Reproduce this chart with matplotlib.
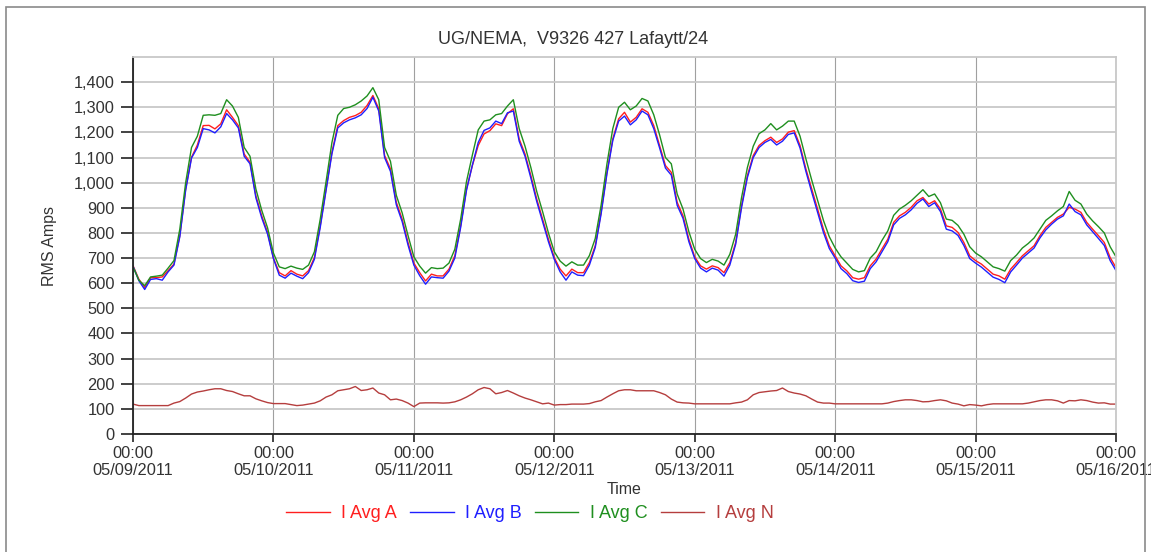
import numpy as np
import pandas as pd
import matplotlib
matplotlib.use("Agg")
from matplotlib import pyplot as plt
from matplotlib import dates as mdates
from matplotlib.ticker import StrMethodFormatter
from matplotlib.patches import Rectangle

plt.rcParams['font.family'] = ['Liberation Sans', 'DejaVu Sans']

# hourly RMS current readings, 05/09/2011 00:00 .. 05/16/2011 00:00
times = pd.date_range('2011-05-09 00:00', periods=169, freq='h')

i_avg_a = [
    670, 616, 583, 622, 622, 625, 650, 676, 789, 975, 1101, 1150, 1227, 1228, 1214, 1234, 1290, 1260, 1227, 1114, 1081, 948, 868, 802, 700,
    642, 629, 650, 636, 629, 650, 702, 829, 975, 1121, 1227, 1247, 1260, 1267, 1280, 1307, 1347, 1294, 1108, 1055, 922, 855, 762, 680,
    642, 609, 636, 629, 629, 656, 709, 829, 975, 1068, 1148, 1194, 1207, 1234, 1227, 1274, 1294, 1174, 1114, 1028, 935, 855, 775, 702,
    656, 629, 656, 642, 642, 682, 749, 882, 1041, 1174, 1254, 1280, 1241, 1260, 1294, 1280, 1227, 1148, 1068, 1041, 922, 868, 775, 705,
    669, 656, 669, 662, 642, 682, 762, 908, 1028, 1108, 1148, 1167, 1181, 1160, 1174, 1201, 1207, 1148, 1055, 975, 895, 815, 749, 709,
    669, 649, 622, 616, 622, 669, 696, 736, 775, 842, 868, 882, 902, 928, 941, 915, 928, 895, 828, 822, 802, 762, 709, 690,
    676, 656, 636, 629, 616, 656, 682, 709, 729, 749, 789, 822, 842, 862, 875, 902, 895, 882, 842, 815, 789, 762, 702, 662,
]
i_avg_b = [
    668, 610, 575, 615, 618, 612, 645, 672, 785, 970, 1098, 1140, 1215, 1210, 1198, 1222, 1275, 1250, 1218, 1105, 1075, 940, 860, 795, 698,
    632, 620, 640, 628, 618, 642, 695, 822, 970, 1115, 1218, 1238, 1250, 1258, 1270, 1295, 1340, 1285, 1100, 1045, 912, 845, 752, 672,
    630, 596, 625, 622, 620, 648, 700, 822, 970, 1070, 1160, 1208, 1218, 1245, 1235, 1278, 1285, 1165, 1105, 1018, 925, 845, 765, 695,
    645, 612, 645, 632, 630, 672, 742, 875, 1035, 1168, 1245, 1265, 1230, 1250, 1285, 1270, 1215, 1138, 1058, 1030, 910, 858, 765, 698,
    660, 645, 660, 652, 628, 672, 755, 900, 1020, 1100, 1140, 1160, 1172, 1150, 1165, 1192, 1198, 1138, 1045, 962, 882, 802, 738, 700,
    658, 638, 610, 603, 608, 658, 685, 725, 765, 832, 858, 872, 892, 918, 935, 905, 920, 885, 815, 808, 790, 750, 698, 680,
    664, 644, 624, 615, 602, 645, 672, 700, 720, 740, 780, 812, 835, 855, 868, 915, 885, 872, 832, 805, 778, 750, 690, 650,
]
i_avg_c = [
    665, 612, 590, 625, 628, 632, 660, 690, 815, 1000, 1140, 1185, 1268, 1270, 1268, 1275, 1330, 1305, 1260, 1140, 1105, 975, 890, 820, 720,
    665, 658, 668, 660, 655, 672, 725, 855, 1005, 1160, 1268, 1295, 1300, 1310, 1325, 1345, 1378, 1330, 1140, 1085, 950, 880, 790, 705,
    668, 640, 662, 658, 660, 680, 735, 855, 1005, 1110, 1210, 1245, 1250, 1270, 1275, 1305, 1330, 1215, 1145, 1060, 965, 885, 800, 725,
    688, 668, 685, 672, 672, 710, 778, 910, 1075, 1215, 1300, 1320, 1290, 1305, 1335, 1325, 1270, 1190, 1100, 1075, 955, 895, 805, 735,
    698, 682, 695, 688, 672, 715, 795, 940, 1060, 1145, 1195, 1210, 1235, 1210, 1225, 1245, 1245, 1185, 1095, 1010, 930, 850, 785, 740,
    705, 680, 655, 645, 650, 700, 725, 770, 808, 870, 895, 910, 928, 950, 972, 945, 955, 920, 855, 850, 830, 795, 745, 720,
    705, 685, 665, 658, 648, 690, 712, 740, 758, 780, 815, 850, 868, 888, 905, 965, 930, 915, 875, 848, 825, 800, 745, 705,
]
i_avg_n = [
    119, 113, 113, 113, 113, 113, 113, 123, 129, 143, 159, 167, 171, 176, 180, 180, 173, 169, 160, 152, 152, 140, 132, 125, 121,
    121, 121, 117, 113, 115, 119, 123, 132, 147, 156, 172, 176, 180, 189, 173, 176, 183, 163, 156, 136, 139, 133, 123, 109,
    123, 124, 124, 124, 123, 124, 128, 136, 147, 160, 176, 185, 180, 160, 165, 173, 163, 152, 143, 136, 128, 120, 123, 115,
    117, 117, 119, 119, 119, 121, 128, 133, 147, 160, 172, 176, 176, 172, 172, 172, 172, 165, 156, 139, 127, 124, 123, 120,
    120, 120, 120, 120, 120, 120, 124, 127, 136, 156, 165, 168, 171, 173, 183, 169, 163, 159, 152, 139, 127, 123, 123, 120,
    120, 120, 120, 120, 120, 120, 120, 120, 123, 129, 133, 136, 136, 133, 128, 129, 133, 136, 132, 123, 119, 112, 117, 115,
    112, 117, 120, 120, 120, 120, 120, 120, 123, 128, 133, 136, 136, 132, 123, 133, 132, 136, 133, 127, 123, 124, 119, 119,
]

series = [
    ('I Avg A', i_avg_a, '#ff1f1f'),
    ('I Avg B', i_avg_b, '#1f1fff'),
    ('I Avg C', i_avg_c, '#1f8f1f'),
    ('I Avg N', i_avg_n, '#b53e3e'),
]

W, H = 1151, 552
fig = plt.figure(figsize=(W / 100, H / 100), dpi=100)
ax = fig.add_axes([133 / W, 1 - 434 / H, (1116 - 133) / W, (434 - 57) / H])

for label, vals, color in series:
    ax.plot(times, vals, color=color, lw=1.0, label=label)

ax.set_xlim(times[0], times[-1])
ax.set_ylim(0, 1500)
ax.set_yticks(np.arange(0, 1500, 100))
ax.yaxis.set_major_formatter(StrMethodFormatter('{x:,.0f}'))
ax.xaxis.set_major_locator(mdates.DayLocator())
ax.xaxis.set_major_formatter(mdates.DateFormatter('%H:%M\n%m/%d/%Y'))

ax.grid(axis='y', color='#c8c8c8', lw=1.3)
ax.grid(axis='x', color='#a0a0a0', lw=0.8)
ax.set_axisbelow(True)

for side in ('top', 'right'):
    ax.spines[side].set_color('#c8c8c8')
    ax.spines[side].set_linewidth(1.3)
for side in ('left', 'bottom'):
    ax.spines[side].set_color('#222222')
    ax.spines[side].set_linewidth(1.3)

ax.tick_params(axis='both', width=1.2, color='#222222',
               labelsize=11.8, labelcolor='#333333')
ax.tick_params(axis='y', length=9, pad=4)
ax.tick_params(axis='x', length=5.5, pad=3)

fig.text(573 / W, 1 - 40 / H, 'UG/NEMA,  V9326 427 Lafaytt/24',
         fontsize=13, color='#333333', ha='center', va='center')
ax.set_xlabel('Time', fontsize=11.5, color='#333333', labelpad=3)
ax.set_ylabel('RMS Amps', fontsize=11.5, color='#333333', labelpad=12)

leg = fig.legend(loc='center', bbox_to_anchor=(530 / W, 1 - 514 / H), ncol=4,
                 frameon=False, fontsize=13, labelcolor='linecolor',
                 handlelength=2.4, handletextpad=0.65, columnspacing=0.72)

# outer frame around the chart area
fig.patches.append(Rectangle((6 / W, -0.1), (1145 - 6) / W, (H - 7) / H + 0.1,
                             transform=fig.transFigure, fill=False,
                             edgecolor='#8a8a8a', lw=1.2))

fig.savefig('out.png', dpi=100)
